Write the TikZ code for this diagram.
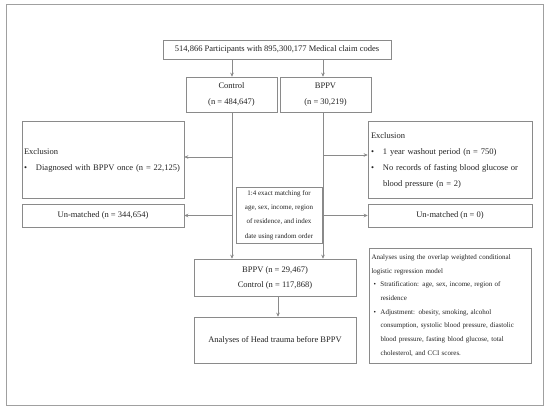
\documentclass[tikz,border=0pt]{standalone}
\usepackage{fontspec}
\setmainfont{Liberation Serif}
\usetikzlibrary{arrows.meta}
\definecolor{boxgray}{HTML}{8A8A8A}
\definecolor{framegray}{HTML}{A0A0A0}
\definecolor{txt}{HTML}{222222}
\tikzset{
  box/.style={draw=boxgray, line width=0.6pt, inner sep=0pt, text=txt, align=center},
  big/.style={font=\fontsize{8.5}{16}\selectfont},
  small/.style={font=\fontsize{7}{14.2}\selectfont},
  conn/.style={draw=boxgray, line width=0.6pt},
  arr/.style={conn, -{Stealth[length=4pt,width=3.6pt]}}
}
\newcommand{\bul}{\makebox[12pt][l]{•}}
\newcommand{\sbul}{\hspace*{2pt}\makebox[7pt][l]{•}}
\begin{document}
\begin{tikzpicture}[x=1pt,y=-1pt]
\useasboundingbox (0,0) rectangle (550,412);
\draw[framegray, line width=0.9pt] (6,4.5) rectangle (543,405);

\node[box,big, minimum width=228pt, minimum height=19pt] (top) at (277,49.5) {514,866 Participants with 895,300,177 Medical claim codes};
\node[box,big, minimum width=91pt, minimum height=35pt] (ctrl) at (231.5,94.5) {Control\\(n = 484,647)};
\node[box,big, minimum width=91pt, minimum height=35pt] (bppv) at (325.5,94.5) {BPPV\\(n = 30,219)};

\node[box,big, minimum width=162pt, minimum height=77pt, align=left, text width=158pt] (lexcl) at (103,160) {Exclusion\\\bul Diagnosed with BPPV once (n = 22,125)};
\node[box,big, minimum width=162pt, minimum height=23pt] (lunm) at (103,215.5) {Un-matched (n = 344,654)};

\node[box,big, minimum width=164pt, minimum height=77pt, align=left, text width=158pt] (rexcl) at (450,160) {Exclusion\\\bul 1 year washout period (n = 750)\\\bul No records of fasting blood glucose or\\\hspace*{12pt}blood pressure (n = 2)};
\node[box,big, minimum width=164pt, minimum height=23pt] (runm) at (450,215.5) {Un-matched (n = 0)};

\node[box,small, minimum width=86pt, minimum height=56pt] (match) at (279,215) {1:4 exact matching for\\age, sex, income, region\\of residence, and index\\date using random order};

\node[box,big, minimum width=162pt, minimum height=37pt, font=\fontsize{8.5}{15}\selectfont] (matched) at (275,277.5) {BPPV (n = 29,467)\\Control (n = 117,868)};
\node[box,big, minimum width=162pt, minimum height=46pt] (anal) at (275,340) {Analyses of Head trauma before BPPV};

\node[box,small, minimum width=162pt, minimum height=115pt, align=left, text width=157pt, font=\fontsize{7}{13.7}\selectfont] (model) at (450,305.5) {Analyses using the overlap weighted conditional\\logistic regression model\\\sbul Stratification: age, sex, income, region of\\\hspace*{9pt}residence\\\sbul Adjustment: obesity, smoking, alcohol\\\hspace*{9pt}consumption, systolic blood pressure, diastolic\\\hspace*{9pt}blood pressure, fasting blood glucose, total\\\hspace*{9pt}cholesterol, and CCI scores.};

\coordinate (lx) at (232,0);
\coordinate (rx) at (323,0);
\draw[arr] (top.south -| lx) -- (ctrl.north -| lx);
\draw[arr] (top.south -| rx) -- (bppv.north -| rx);
\draw[arr] (ctrl.south -| lx) -- (matched.north -| lx);
\draw[arr] (bppv.south -| rx) -- (matched.north -| rx);
\draw[arr] (lx |- 0,157) -- (lexcl.east |- 0,157);
\draw[arr] (lx |- lunm.east) -- (lunm.east);
\draw[arr] (rx |- 0,155) -- (rexcl.west |- 0,155);
\draw[arr] (rx |- runm.west) -- (runm.west);
\draw[arr] (matched.south -| 278,0) -- (anal.north -| 278,0);
\end{tikzpicture}
\end{document}
